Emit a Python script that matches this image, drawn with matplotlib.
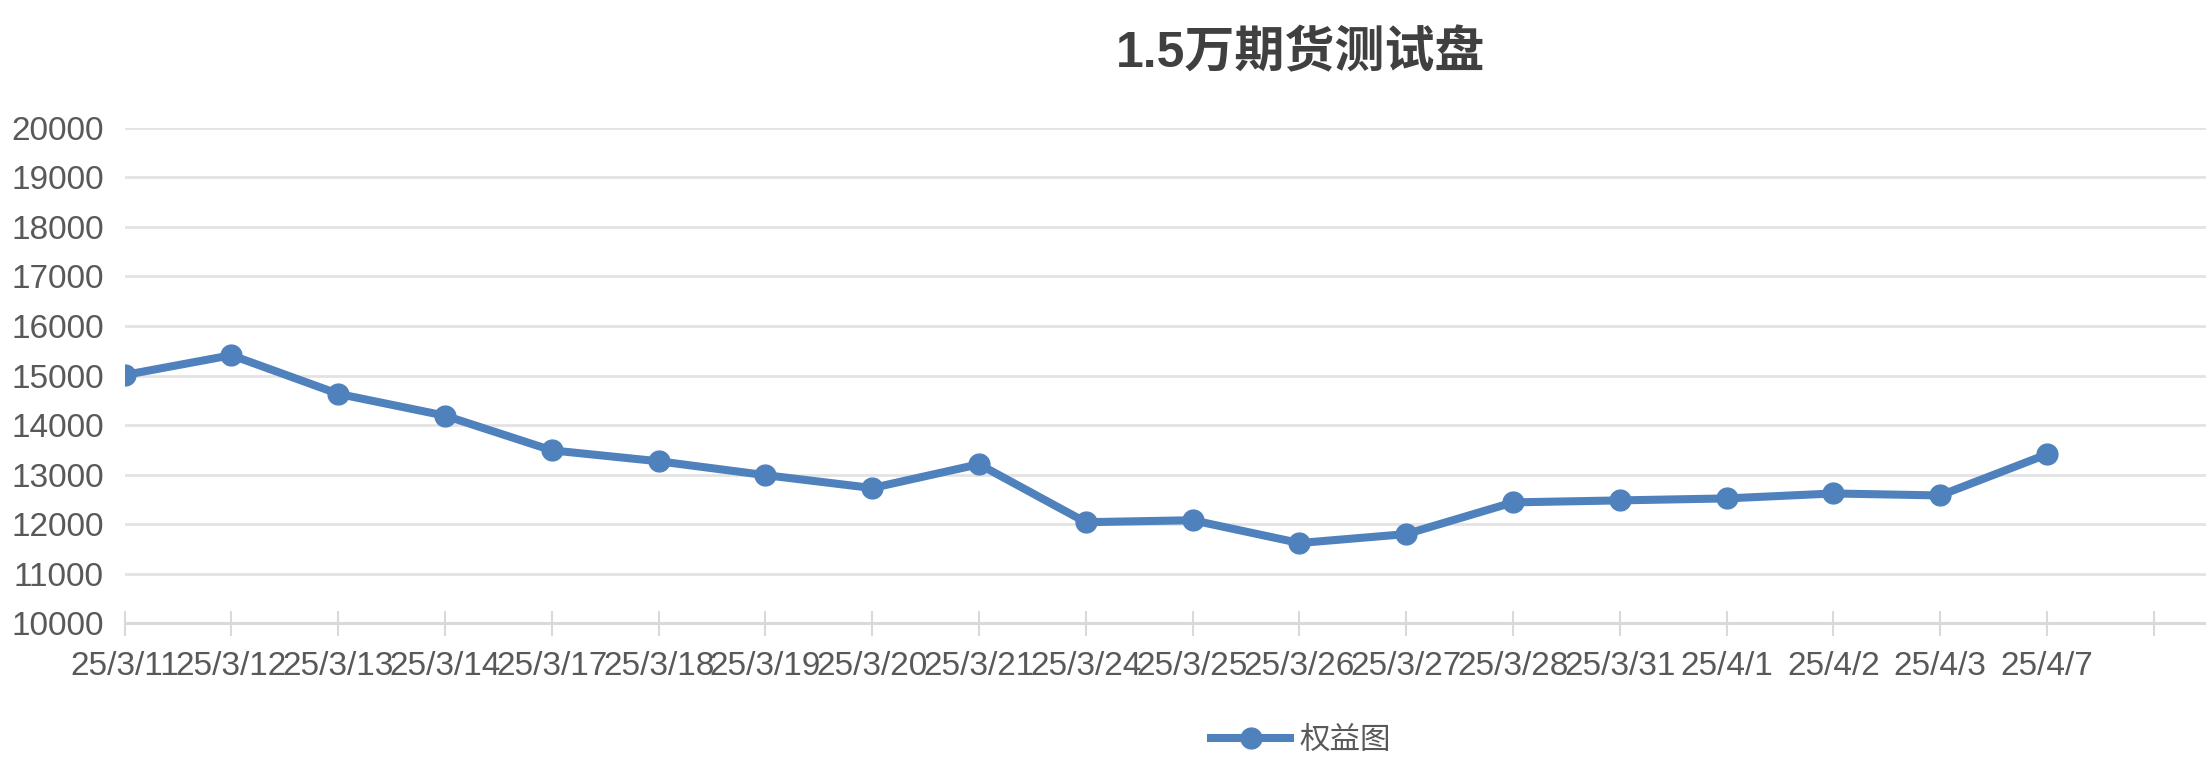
import matplotlib.pyplot as plt

# data
dates = ['25/3/11', '25/3/12', '25/3/13', '25/3/14', '25/3/17', '25/3/18', '25/3/19',
         '25/3/20', '25/3/21', '25/3/24', '25/3/25', '25/3/26', '25/3/27', '25/3/28',
         '25/3/31', '25/4/1', '25/4/2', '25/4/3', '25/4/7']
equity = [15010, 15410, 14630, 14190, 13490, 13270, 12990, 12730, 13210, 12040,
          12080, 11620, 11800, 12440, 12480, 12520, 12620, 12580, 13410]
y_ticks = [10000, 11000, 12000, 13000, 14000, 15000, 16000, 17000, 18000, 19000, 20000]

title = '1.5万期货测试盘'
series_name = '权益图'

blue = '#4F81BD'
grey_text = '#595959'

fig = plt.figure(figsize=(22.06, 7.8), dpi=100)
ax = fig.add_axes([0.0565, 0.2009, 0.9435, 0.6353])

x = list(range(len(dates)))
ax.plot(x, equity, color=blue, lw=5.8, marker='o', ms=15, label=series_name,
        solid_joinstyle='round', zorder=3)

ax.set_ylim(y_ticks[0], y_ticks[-1])
ax.set_xlim(0, 19.49)
ax.set_yticks(y_ticks)
ax.set_xticks(list(range(len(dates) + 1)))
ax.set_xticklabels(dates + [''])

ax.grid(axis='y', color='#E3E3E3', lw=2)
ax.set_axisbelow(True)
for s in ['top', 'right', 'left']:
    ax.spines[s].set_visible(False)
ax.spines['bottom'].set_color('#D9D9D9')
ax.spines['bottom'].set_linewidth(2.2)

ax.tick_params(axis='y', length=0, pad=15, labelsize=24, labelcolor=grey_text)
ax.tick_params(axis='x', direction='inout', length=18, width=1.5, color='#D9D9D9',
               pad=11, labelsize=24, labelcolor=grey_text)
for lab in ax.get_xticklabels() + ax.get_yticklabels():
    lab.set_fontfamily(['Liberation Sans', 'DejaVu Sans'])

fig.text(1301 / 2206, 1 - 54 / 780, title, ha='center', va='center', fontsize=36,
         fontweight='bold', color='#404040',
         family=['Liberation Sans', 'Noto Sans CJK SC'])

fig.legend(loc='center', bbox_to_anchor=(1301 / 2206, 1 - 740 / 780), frameon=False,
           handlelength=2.6, handletextpad=0.3,
           prop={'family': ['Noto Sans CJK SC'], 'size': 22}, labelcolor=grey_text)

fig.savefig('out.png', dpi=100)
